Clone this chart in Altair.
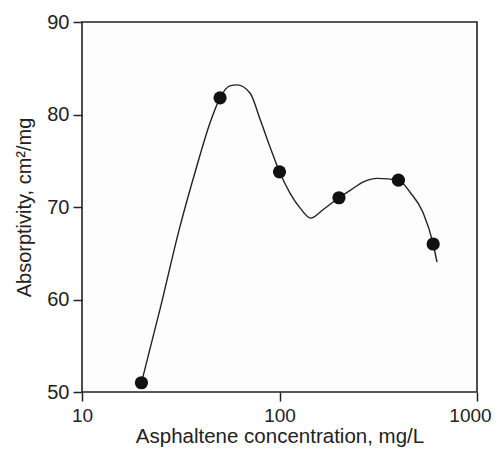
import altair as alt
import pandas as pd

# measured points
conc = [20, 50, 100, 200, 400, 600]
absorp = [51.0, 81.8, 73.8, 71.0, 72.9, 66.0]

# hand-drawn smooth curve
curve_conc = [20, 25, 31, 38, 44.5, 50, 56, 61, 71, 80, 89.5, 100, 113, 127, 144,
              166, 200, 228, 265, 312, 400, 458, 533, 600, 627]
curve_abs = [51.0, 59.2, 67.5, 74.3, 79.1, 81.8, 83.1, 83.2, 82.3, 79.4, 76.5, 73.8,
             71.5, 69.9, 68.8, 69.7, 71.0, 71.8, 72.7, 73.1, 72.9, 71.6, 69.4, 66.0, 64.05]

pts = pd.DataFrame({"c": conc, "a": absorp})
crv = pd.DataFrame({"c": curve_conc, "a": curve_abs})

font = "Liberation Sans"
ink = "#222"

xs = alt.X("c:Q", scale=alt.Scale(type="log", domain=[10, 1000]),
           axis=alt.Axis(values=[10, 100, 1000], format="d", title="Asphaltene concentration, mg/L",
                         grid=False, domain=False, tickColor=ink, tickSize=9, tickWidth=1.5,
                         labelPadding=5, labelFontSize=19, titleFontSize=20.5,
                         titleFontWeight="normal", labelColor=ink, titleColor=ink,
                         titlePadding=1, labelFont=font, titleFont=font, labelFlush=False,
                         labelOffset=alt.ExprRef("datum.value == 1000 ? -7 : 0")))
ys = alt.Y("a:Q", scale=alt.Scale(domain=[50, 90]),
           axis=alt.Axis(values=[50, 60, 70, 80, 90], title="Absorptivity, cm²/mg",
                         grid=False, domain=False, tickColor=ink, tickSize=9, tickWidth=1.5,
                         labelPadding=4, labelFontSize=20, titleFontSize=20,
                         titleFontWeight="normal", labelColor=ink, titleColor=ink,
                         titlePadding=12, labelFont=font, titleFont=font))

line = alt.Chart(crv).mark_line(color=ink, strokeWidth=1.4, interpolate="monotone").encode(
    x=xs, y=ys, order=alt.Order("c:Q"))
dots = alt.Chart(pts).mark_circle(color="#111", opacity=1, size=175).encode(x="c:Q", y="a:Q")

chart = (line + dots).properties(
    width=395, height=370, autosize="none",
    padding={"left": 74, "top": 14, "right": 15, "bottom": 57},
    background="white",
).configure_view(stroke=ink, strokeWidth=1.6, fill="#fdfdfd")

chart.save("out.html", embed_options={"renderer": "svg", "actions": False})
